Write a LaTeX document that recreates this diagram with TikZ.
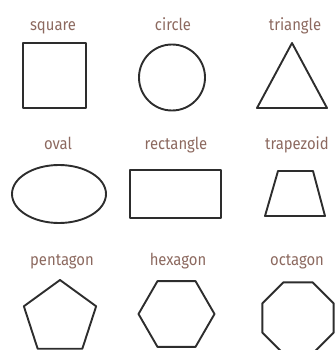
\documentclass[tikz,border=0pt]{standalone}
\usepackage{fontspec}
\newfontfamily\labfont[FakeStretch=0.9]{Fira Sans}
\definecolor{labcol}{RGB}{140,105,95}
\definecolor{shapecol}{RGB}{45,45,45}
\begin{document}
\begin{tikzpicture}[x=1pt,y=-1pt,
  lab/.style={font=\labfont\fontsize{16.5}{18}\selectfont, text=labcol, inner sep=0pt, anchor=base},
  shp/.style={draw=shapecol, line width=1.9pt, line join=round}]
\useasboundingbox (0,0) rectangle (335,350);
% labels
\node[lab] (lsquare) at (53,31) {square};
\node[lab] (lcircle) at (173,31) {circle};
\node[lab] (ltriangle) at (295,31) {triangle};
\node[lab] (loval) at (58,149) {oval};
\node[lab] (lrect) at (176,149) {rectangle};
\node[lab] (ltrap) at (297,149) {trapezoid};
\node[lab] (lpent) at (62,265) {pentagon};
\node[lab] (lhex) at (178,265) {hexagon};
\node[lab] (loct) at (297,265) {octagon};
% row 1
\draw[shp] (23,43) rectangle (86,108);
\draw[shp] (172,77.5) circle[radius=33];
\draw[shp] (292,43) -- (327,108) -- (257,108) -- cycle;
% row 2
\draw[shp] (59,194) ellipse[x radius=47, y radius=29];
\draw[shp] (130,170) rectangle (221,218);
\draw[shp] (278,171) -- (313,171) -- (325,216) -- (265,216) -- cycle;
% row 3
\draw[shp] (60,318) +(90:-38) -- +(162:-38) -- +(234:-38) -- +(306:-38) -- +(18:-38) -- cycle;
\draw[shp] (176.5,314) +(0:38) -- +(60:38) -- +(120:38) -- +(180:38) -- +(240:38) -- +(300:38) -- cycle;
\draw[shp] (298,318) +(22.5:38.5) -- +(67.5:38.5) -- +(112.5:38.5) -- +(157.5:38.5) -- +(202.5:38.5) -- +(247.5:38.5) -- +(292.5:38.5) -- +(337.5:38.5) -- cycle;
\end{tikzpicture}
\end{document}
